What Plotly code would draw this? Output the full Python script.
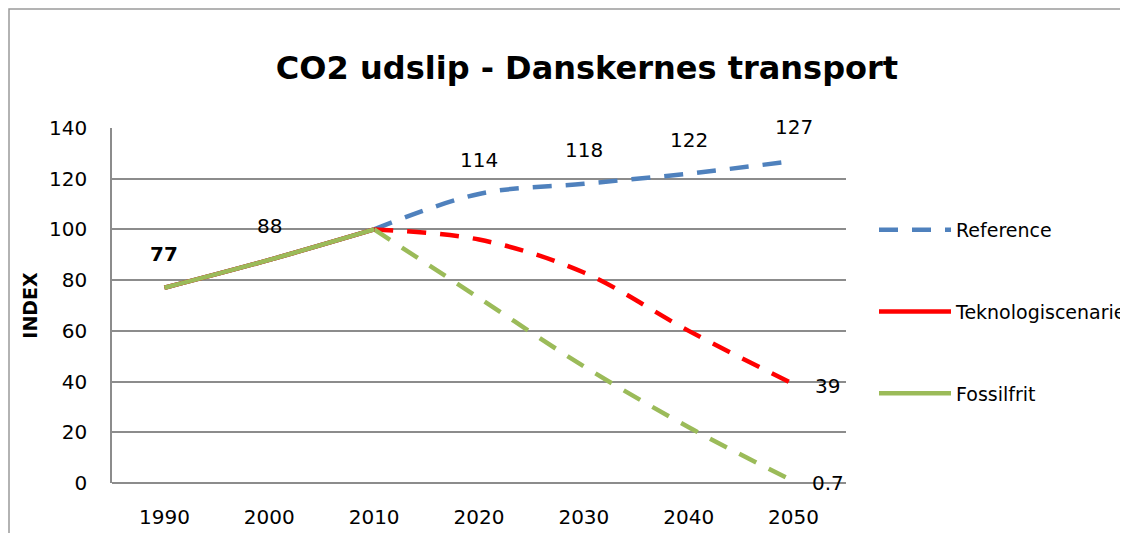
import plotly.graph_objects as go

years = ["1990", "2000", "2010", "2020", "2030", "2040", "2050"]
reference = [77, 88, 100, 114, 118, 122, 127]
teknologi = [77, 88, 100, 96, 83, 60, 39]
fossilfrit = [77, 88, 100, 73, 46, 22, 0.7]

series_names = ["Reference", "Teknologiscenarie", "Fossilfrit"]
series_colors = ["#4F81BD", "#FF0000", "#9BBB59"]
series_values = [reference, teknologi, fossilfrit]
# legend shows dashed for Reference, solid for the others
legend_from_dashed = [True, False, False]

# data labels: (series index, point index, bold, position)
labels = [
    (0, 0, True, "above"),
    (0, 1, False, "above"),
    (0, 3, False, "above"),
    (0, 4, False, "above"),
    (0, 5, False, "above"),
    (0, 6, False, "above"),
    (1, 6, False, "right"),
    (2, 6, False, "right"),
]

FONT = "DejaVu Sans"
W, H = 1128, 533
OFF = 8  # page body margin
L, R, T, B = 112 - OFF, W - (846 - OFF), 128 - OFF, H - (483 - OFF)
PW, PH = W - L - R, H - T - B

fig = go.Figure()

# dashed parts (2010 onward)
for i, (name, col, vals) in enumerate(zip(series_names, series_colors, series_values)):
    fig.add_trace(go.Scatter(
        x=years[2:], y=vals[2:], mode="lines", name=name,
        line=dict(color=col, width=4.5, dash="19px,14px", shape="spline", smoothing=1),
        showlegend=legend_from_dashed[i], legendgroup=name, legendrank=i + 1,
        hoverinfo="skip",
    ))
# solid parts (1990-2010), green on top
for i, (name, col, vals) in enumerate(zip(series_names, series_colors, series_values)):
    fig.add_trace(go.Scatter(
        x=years[:3], y=vals[:3], mode="lines", name=name,
        line=dict(color=col, width=4.5, shape="spline", smoothing=1),
        showlegend=not legend_from_dashed[i], legendgroup=name, legendrank=i + 1,
        hoverinfo="skip",
    ))

for s, p, bold, pos in labels:
    v = series_values[s][p]
    txt = f"{v:g}"
    if bold:
        txt = f"<b>{txt}</b>"
    # category axis: annotation x uses the category serial number
    if pos == "above":
        fig.add_annotation(x=p, y=v, xref="x", yref="y", text=txt, showarrow=False,
                           yshift=34, font=dict(family=FONT, size=20, color="black"))
    else:
        fig.add_annotation(x=p, y=v, xref="x", yref="y", text=txt, showarrow=False,
                           xshift=34, yshift=-2, font=dict(family=FONT, size=20, color="black"))

# outer chart frame (cropped by the picture edges)
fig.add_shape(type="rect", xref="paper", yref="paper",
              x0=(1 - L) / PW, x1=(W + 20 - L) / PW,
              y0=(H - B - (H + 20)) / PH, y1=(H - B - 1) / PH,
              line=dict(color="#9a9a9a", width=1.5), fillcolor="rgba(0,0,0,0)", layer="below")

fig.update_layout(
    width=W, height=H,
    margin=dict(l=L, r=R, t=T, b=B, autoexpand=False),
    paper_bgcolor="white", plot_bgcolor="white",
    font=dict(family=FONT, size=20, color="black"),
    title=dict(text="<b>CO2 udslip - Danskernes transport</b>",
               x=(587 - OFF) / W, xanchor="center", y=1 - (68 - OFF) / H, yanchor="middle",
               font=dict(family=FONT, size=32, color="black")),
    showlegend=True,
    legend=dict(x=(874 - OFF - L) / PW, xanchor="left", y=(H - B - (211 - OFF)) / PH, yanchor="top",
                traceorder="grouped", tracegroupgap=54, itemwidth=72,
                font=dict(family=FONT, size=19, color="black"),
                bgcolor="rgba(0,0,0,0)"),
    xaxis=dict(type="category", categoryorder="array", categoryarray=years,
               range=[-0.5, 6.5], showgrid=False, showline=False,
               zeroline=False, ticks="", ticklabelstandoff=20,
               tickfont=dict(family=FONT, size=20, color="black")),
    yaxis=dict(range=[0, 140], dtick=20, showgrid=True, gridcolor="#8c8c8c", gridwidth=1.5,
               zeroline=True, zerolinecolor="#8c8c8c", zerolinewidth=1.5,
               showline=True, linecolor="#8c8c8c", linewidth=1.5,
               ticks="", ticklabelstandoff=19,
               tickfont=dict(family=FONT, size=20, color="black"),
               title=dict(text="<b>INDEX</b>", standoff=6,
                          font=dict(family=FONT, size=19, color="black"))),
)

fig.write_html("out.html")
